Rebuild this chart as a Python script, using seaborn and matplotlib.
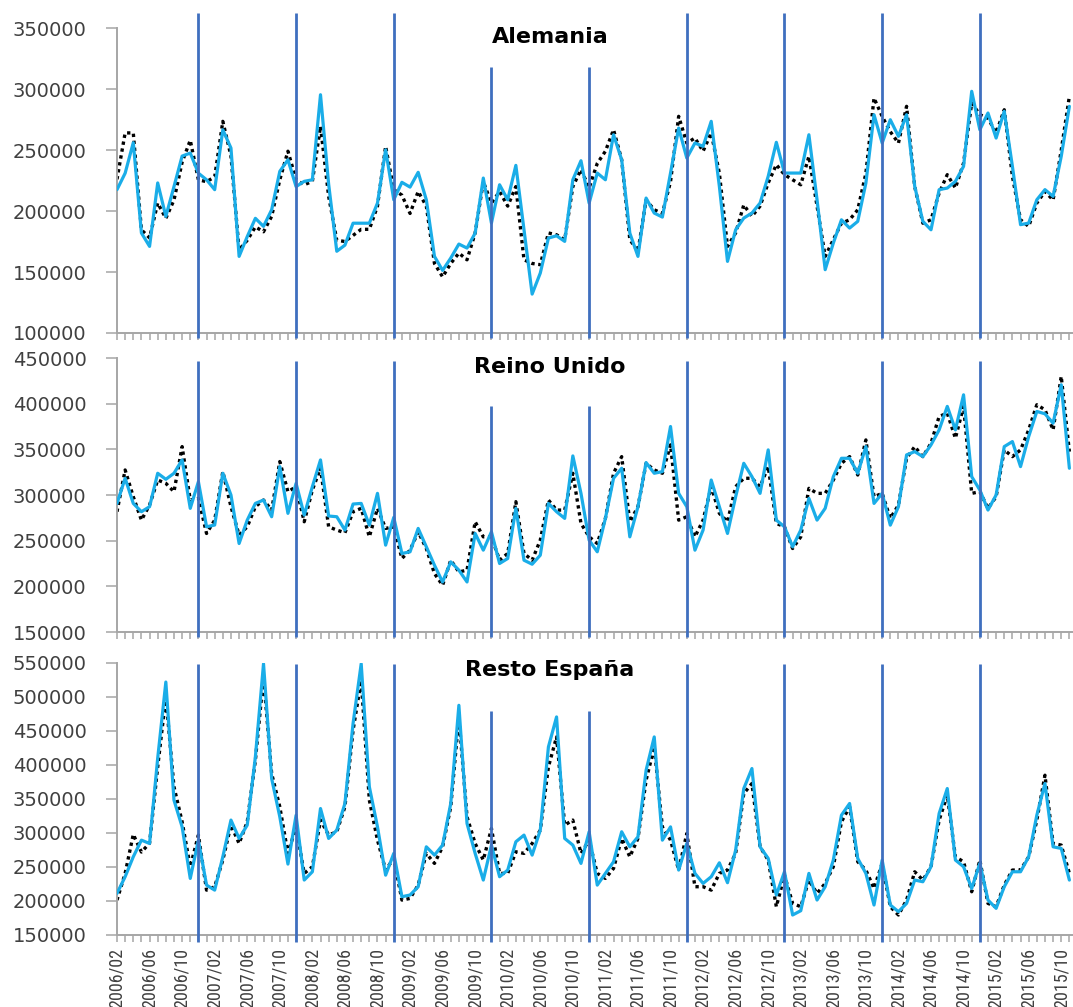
import numpy as np
import pandas as pd
import matplotlib
matplotlib.use("Agg")
import matplotlib.pyplot as plt
from matplotlib import font_manager
import seaborn as sns

# ---------------------------------------------------------------- data
months = pd.period_range("2006-02", "2015-11", freq="M")
month_labels = [p.strftime("%Y/%m") for p in months]

alemania_real = [
    217500, 231000, 256000, 182000, 171000, 223000, 195600, 220000, 245000, 247500,
    231000, 225600, 217500, 266600, 251600, 162800, 179000, 194000, 187400, 201000,
    232500, 242000, 220000, 224300, 225600, 295300, 222000, 167000, 172000, 190000,
    190000, 190000, 206500, 250200, 209200, 223500, 219600, 231700, 209200, 162800,
    151300, 161400, 172900, 169600, 181900, 227000, 190100, 221500, 209200, 237400,
    184600, 131900, 149100, 177800, 179700, 175100, 225600, 241200, 206500, 231100,
    225600, 262500, 242000, 181900, 162800, 210600, 198300, 195000, 231100, 268000,
    243400, 255700, 253000, 273500, 220200, 158700, 184600, 194200, 198300, 206500,
    228400, 256300, 231100, 231100, 231100, 262500, 209200, 151900, 173700, 192800,
    186000, 191500, 222900, 278900, 255700, 274800, 261200, 278900, 220200, 191500,
    184600, 217500, 218800, 224300, 236600, 298100, 266600, 280300, 259800, 281700,
    236600, 188800, 190100, 209200, 217500, 212000, 244800, 285800,
]
alemania_modelo = [
    226000, 264000, 264000, 184600, 178000, 206500, 194000, 209000, 240000, 258000,
    225600, 224000, 228000, 273500, 245000, 168000, 176000, 187000, 183000, 195600,
    225600, 249000, 225600, 221500, 224300, 269400, 212000, 176000, 175000, 180000,
    185000, 185000, 204000, 253000, 217500, 213000, 198000, 216000, 204000, 157000,
    146000, 157000, 165500, 160000, 182000, 224000, 206500, 216000, 204000, 220000,
    160000, 157000, 156000, 182000, 180500, 176500, 220000, 234000, 219000, 239000,
    249000, 266600, 242000, 176500, 167000, 209000, 201000, 198000, 224000, 277600,
    255700, 259800, 249000, 264000, 231000, 171000, 182000, 205000, 195600, 204000,
    223000, 238000, 229800, 225600, 221500, 244800, 204000, 162800, 176500, 190000,
    192800, 201000, 231000, 292600, 277600, 265000, 255700, 285800, 220000, 190000,
    192800, 214700, 229800, 218800, 239300, 288500, 279000, 276000, 264000, 283000,
    228400, 192800, 187400, 206500, 216000, 209000, 250000, 294000,
]

reino_unido_real = [
    290800, 318300, 290800, 281700, 287200, 323800, 317200, 323800, 338400, 285400,
    314600, 265200, 267100, 323800, 300000, 246900, 272500, 290800, 294500, 276200,
    331100, 279900, 312800, 278000, 309100, 338400, 277000, 276200, 261600, 290100,
    290800, 267000, 301800, 245100, 275500, 236000, 237800, 263400, 243300, 223100,
    204800, 226800, 217700, 204800, 257900, 239600, 259700, 225000, 230500, 285400,
    228600, 224200, 234100, 290800, 281700, 274400, 342800, 301800, 250600, 237800,
    274400, 318300, 329300, 254200, 287200, 335500, 323800, 325600, 375000, 301800,
    287200, 239600, 261600, 316400, 287200, 257900, 298100, 334700, 320100, 301800,
    349400, 272500, 265200, 243300, 261600, 296300, 272500, 285400, 320100, 340200,
    340200, 323800, 353000, 290800, 301800, 267000, 287200, 343900, 347500, 342000,
    354900, 371300, 397000, 371300, 409700, 320100, 305500, 283500, 300000, 353000,
    358500, 331100, 364000, 391500, 388900, 378600, 420700, 329300,
]
reino_unido_modelo = [
    281700, 327400, 298100, 272500, 289000, 316400, 312800, 303600, 353000, 294500,
    296300, 257900, 272500, 325600, 287200, 256100, 265200, 287200, 294500, 283500,
    336600, 303600, 309100, 270700, 305500, 329300, 265200, 261600, 258600, 281700,
    285400, 254200, 285400, 263400, 265200, 230500, 239600, 259700, 241400, 214000,
    201200, 228600, 215800, 217700, 270700, 254200, 254200, 228600, 236000, 292700,
    236000, 228600, 250600, 294500, 283500, 283500, 323800, 268900, 254200, 246900,
    274400, 323800, 342000, 270700, 287200, 334700, 327400, 323800, 354900, 272500,
    276200, 254200, 272500, 309100, 279900, 270700, 309100, 318300, 318300, 309100,
    331100, 268900, 265200, 241400, 254200, 307300, 301800, 301800, 316400, 334700,
    342000, 321900, 360300, 298100, 301800, 274400, 289000, 340200, 353000, 342000,
    356700, 386000, 389600, 362200, 397000, 301800, 303600, 285400, 298100, 349400,
    342000, 349400, 371300, 398800, 393300, 371300, 429900, 347500,
]

resto_espana_real = [
    211200, 235700, 265000, 289500, 284600, 410000, 522000, 348300, 309000, 233200,
    289500, 223400, 216000, 265000, 319000, 292000, 311600, 412000, 549000, 380000,
    323800, 254300, 326200, 230800, 243000, 336000, 292000, 304200, 343400, 461000,
    549000, 368000, 309000, 238000, 270000, 206300, 208800, 221000, 279700, 267500,
    282200, 343400, 487800, 314000, 270000, 230800, 282200, 235700, 245500, 287100,
    296900, 267500, 304200, 426600, 470700, 292000, 282200, 255300, 301800, 223400,
    240600, 257700, 301800, 279700, 294400, 392300, 441300, 289500, 309000, 245500,
    284600, 240600, 225900, 235700, 256200, 226900, 274800, 365400, 394800, 279700,
    262600, 208800, 243000, 179400, 185700, 240600, 201400, 221000, 260200, 326200,
    343400, 262600, 240600, 194100, 260200, 194100, 184300, 196500, 230800, 228300,
    250400, 328700, 365400, 260200, 250400, 218500, 255300, 201400, 189200, 221000,
    243000, 243000, 265000, 326200, 372800, 279700, 277300, 230800,
]
resto_espana_modelo = [
    201400, 240600, 298000, 272000, 285000, 397200, 500000, 368000, 316500, 250400,
    297000, 216000, 221000, 260200, 311600, 284600, 316500, 407000, 529400, 387500,
    338500, 270000, 309000, 240600, 250400, 319000, 297000, 301800, 338500, 451000,
    524500, 348300, 289500, 245500, 262600, 201400, 203800, 223400, 270000, 255300,
    279700, 338500, 470700, 323800, 284600, 260200, 306700, 240600, 240600, 272400,
    270000, 284600, 304200, 397200, 441300, 311600, 319000, 270000, 289500, 240600,
    233200, 247900, 292000, 265000, 292000, 377700, 426600, 309000, 289500, 245500,
    299300, 221000, 221000, 216000, 240600, 245500, 270000, 358000, 372800, 279700,
    260200, 191600, 238000, 196500, 191600, 230800, 211200, 225900, 250400, 316500,
    338500, 257700, 245500, 218500, 255300, 191600, 179400, 201400, 243000, 230800,
    250400, 319000, 355600, 265000, 257700, 213600, 260200, 196500, 191600, 223400,
    245500, 245500, 265000, 319000, 385000, 284600, 282200, 240600,
]

# December of each year, where the year separators are drawn
separator_months = ["2006/12", "2007/12", "2008/12", "2009/12", "2010/12",
                    "2011/12", "2012/12", "2013/12", "2014/12"]

# ---------------------------------------------------------------- style
sns.set_style("white")
plt.rcParams["font.family"] = ["DejaVu Sans"]

available = {f.name for f in font_manager.fontManager.ttflist}
narrow_font = next((f for f in ["Liberation Sans Narrow", "Roboto Condensed",
                                 "Open Sans Condensed", "Liberation Sans"]
                    if f in available), "DejaVu Sans")

BLUE = "#1AADE8"
SEP = "#3F6FBF"
AXIS_GREY = "#A6A6A6"
TEXT = "#404040"

W, H = 1073, 1007
fig = plt.figure(figsize=(W / 100, H / 100), dpi=100)

x = np.arange(len(months))
sep_idx = [month_labels.index(m) for m in separator_months]

panels = [
    dict(title="Alemania", real=alemania_real, modelo=alemania_modelo,
         ylim=(100000, 350000), top_px=28, bot_px=333,
         sep_top=[362000, 362000, 362000, 318000, 318000, 362000, 362000, 362000, 362000],
         sep_bot=96000, title_y=37),
    dict(title="Reino Unido", real=reino_unido_real, modelo=reino_unido_modelo,
         ylim=(150000, 450000), top_px=358, bot_px=632,
         sep_top=[447000, 447000, 447000, 397000, 397000, 447000, 447000, 447000, 447000],
         sep_bot=144500, title_y=367),
    dict(title="Resto España", real=resto_espana_real, modelo=resto_espana_modelo,
         ylim=(150000, 550000), top_px=663, bot_px=935,
         sep_top=[548000, 548000, 548000, 480000, 480000, 548000, 548000, 548000, 548000],
         sep_bot=140000, title_y=670),
]

left_px = 117
month_px = 8.14
xmax = (W - left_px) / month_px

for k, p in enumerate(panels):
    rect = [left_px / W, 1 - p["bot_px"] / H, 1 - left_px / W,
            (p["bot_px"] - p["top_px"]) / H]
    ax = fig.add_axes(rect)
    df = pd.DataFrame({"mes": x, "real": p["real"], "modelo": p["modelo"]})

    sns.lineplot(data=df, x="mes", y="modelo", ax=ax, color="black",
                 linewidth=2.4, linestyle=(0, (1, 1.1)), zorder=2)
    sns.lineplot(data=df, x="mes", y="real", ax=ax, color=BLUE,
                 linewidth=2.3, zorder=3)

    ax.vlines(sep_idx, p["sep_bot"], p["sep_top"], colors=SEP, linewidth=2.0,
              clip_on=False, zorder=5)

    ax.set_xlim(0, xmax)
    ax.set_ylim(*p["ylim"])
    ax.set_xlabel("")
    ax.set_ylabel("")

    yt = np.arange(p["ylim"][0], p["ylim"][1] + 1, 50000)
    ax.set_yticks(yt)
    ax.set_yticklabels([str(v) for v in yt], fontsize=14, color=TEXT)

    ax.set_xticks(x, minor=True)
    major = x[::4]
    ax.set_xticks(major)
    if k == len(panels) - 1:
        ax.set_xticklabels([month_labels[i] for i in major], rotation=90,
                           fontsize=13, family=narrow_font, color=TEXT,
                           va="top", ha="center")
    else:
        ax.set_xticklabels([])

    for s in ["top", "right"]:
        ax.spines[s].set_visible(False)
    for s in ["left", "bottom"]:
        ax.spines[s].set_color(AXIS_GREY)
        ax.spines[s].set_linewidth(1.4)

    ax.tick_params(axis="x", which="both", direction="out", length=5,
                   width=1.1, color=AXIS_GREY, pad=4, bottom=True)
    ax.tick_params(axis="y", direction="out", length=8, width=1.1,
                   color=AXIS_GREY, pad=14, left=True)
    ax.grid(False)
    ax.patch.set_alpha(0)

    fig.text(550 / W, 1 - p["title_y"] / H, p["title"], ha="center",
             va="center", fontsize=16, fontweight="bold", color="black")

fig.savefig("out.png", dpi=100)
